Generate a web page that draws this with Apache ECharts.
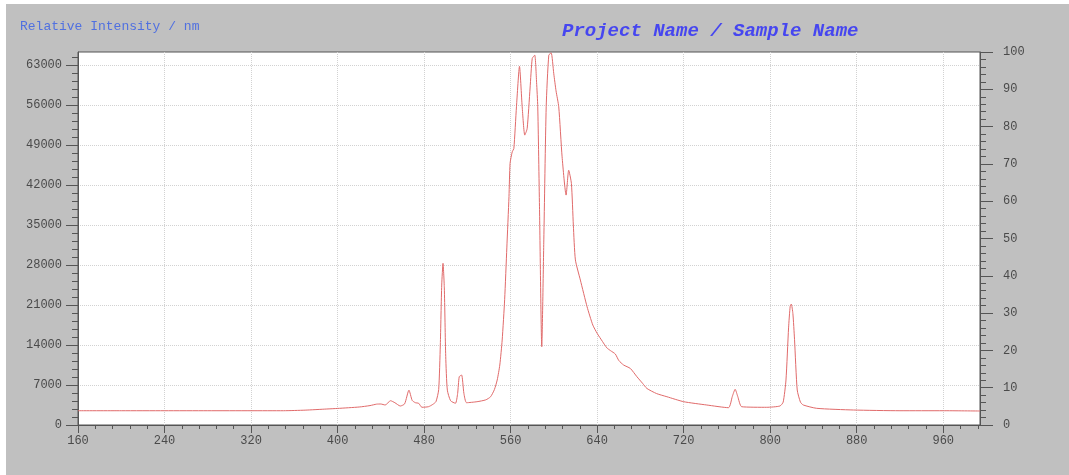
<!DOCTYPE html>
<html>
<head>
<meta charset="utf-8">
<script src="https://cdn.jsdelivr.net/npm/echarts@6/dist/echarts.min.js"></script>
<style>
  html, body { margin: 0; padding: 0; background: #ffffff; }
  #bg { position: absolute; left: 6px; top: 4px; width: 1063px; height: 471px; background: #c0c0c0; }
  #chart { position: absolute; left: 0; top: 0; width: 1069px; height: 475px; }
</style>
</head>
<body>
<div id="bg"></div>
<div id="chart"></div>
<script>
// Wavelength (nm)
const wavelengths = [
  160, 200, 240, 280, 320, 350, 370, 390, 400, 420, 430, 436, 440, 444, 449, 453, 458, 462, 466, 469,
  472, 475, 478, 484, 488, 491, 493.5, 495, 496.3, 497.5, 498.7, 500, 501.5, 504.5, 509, 511, 512.5, 514.7, 516.8, 519.3,
  529, 537, 541.5, 545, 547.6, 550, 552.2, 554.5, 556.5, 558.5, 559.5, 561.5, 563, 565.4, 568.2, 570.7,
  573.1, 575.3, 578, 580, 582.3, 584, 585.1, 586.7, 588.8, 590.7, 592.9, 595.3, 597.5, 599.9, 602, 604.5,
  607.6, 611.3, 613.7, 616.2, 618, 619.9, 624.5, 630.7, 636, 640, 645, 649, 652.5, 656.8, 660, 664.5,
  670.7, 676.8, 682, 686, 695, 704.5, 720, 741.4, 761.4, 765, 767.6, 770, 773.7, 796.8, 809, 812,
  814.6, 817, 818.5, 819.5, 821, 822.5, 825, 828, 830.6, 843, 877, 920, 960, 994
];
// Relative intensity (counts)
const intensities = [
  2500, 2500, 2500, 2500, 2500, 2500, 2600, 2800, 2900, 3150, 3400, 3650, 3675, 3500, 4250, 3900, 3325, 3700, 6100, 4300,
  3900, 3800, 3100, 3200, 3600, 4100, 6200, 14000, 24500, 28300, 24000, 12000, 6100, 4250, 3800, 5500, 8450, 8750, 5550, 3900,
  4080, 4400, 4950, 6200, 7875, 10500, 14875, 22000, 31000, 40000, 45800, 47830, 48400, 55700, 62800, 55700,
  50750, 51900, 59000, 64170, 64750, 60000, 55700, 38200, 13700, 32400, 55700, 64750, 65150, 61500, 58500, 55700,
  46950, 40250, 44600, 42300, 35000, 28900, 25375, 20700, 17500, 16050, 14600, 13500, 13000, 12425, 11300, 10500,
  9900, 8450, 7300, 6400, 5500, 4950, 4080, 3500, 3030, 5000, 6250, 5000, 3200, 3100, 3325, 4000,
  7875, 17000, 20800, 21175, 19500, 15000, 6125, 4000, 3500, 2920, 2625, 2500, 2500, 2450
];
const xTickLabels = [160, 240, 320, 400, 480, 560, 640, 720, 800, 880, 960];
const leftTickLabels = [0, 7000, 14000, 21000, 28000, 35000, 42000, 49000, 56000, 63000];
const rightTickLabels = [0, 10, 20, 30, 40, 50, 60, 70, 80, 90, 100];

const chart = echarts.init(document.getElementById('chart'), null, { renderer: 'canvas' });
const axisColor = '#555555';
const labelFont = { fontFamily: 'Liberation Mono', fontSize: 12, color: '#4a4a4a', formatter: v => String(v) };
const gridLine = { show: true, lineStyle: { color: '#d2d2d2', type: 'dotted', width: 1 } };

const option = {
  backgroundColor: 'transparent',
  animation: false,
  title: [
    {
      text: 'Relative Intensity / nm', left: 15, top: 15,
      textStyle: { fontFamily: 'Liberation Mono', fontSize: 13, fontWeight: 'normal', color: '#5070e0' }
    },
    {
      text: 'Project Name / Sample Name', left: 557, top: 17,
      textStyle: { fontFamily: 'Liberation Mono', fontSize: 19, fontWeight: 'bold', fontStyle: 'italic', color: '#4646f0' }
    }
  ],
  grid: {
    left: 78, right: 89, top: 52, bottom: 50,
    show: true, backgroundColor: '#ffffff', borderColor: axisColor, borderWidth: 1
  },
  xAxis: {
    type: 'value', min: 160, max: 994, interval: 80,
    axisLine: { show: true, onZero: false, lineStyle: { color: axisColor } },
    axisTick: { show: true, length: 8, customValues: xTickLabels, lineStyle: { color: axisColor } },
    minorTick: { show: true, splitNumber: 5, length: 4, lineStyle: { color: axisColor } },
    axisLabel: Object.assign({ margin: 10, customValues: xTickLabels }, labelFont),
    splitLine: gridLine
  },
  yAxis: [
    {
      type: 'value', min: 0, max: 65300, interval: 7000, position: 'left',
      axisLine: { show: true, lineStyle: { color: axisColor } },
      axisTick: { show: true, length: 12, customValues: leftTickLabels, lineStyle: { color: axisColor } },
      minorTick: { show: true, splitNumber: 5, length: 6, lineStyle: { color: axisColor } },
      axisLabel: Object.assign({ margin: 16, customValues: leftTickLabels }, labelFont),
      splitLine: gridLine
    },
    {
      type: 'value', min: 0, max: 100, interval: 10, position: 'right',
      axisLine: { show: true, lineStyle: { color: axisColor } },
      axisTick: { show: true, length: 13, customValues: rightTickLabels, lineStyle: { color: axisColor } },
      minorTick: { show: true, splitNumber: 5, length: 6, lineStyle: { color: axisColor } },
      axisLabel: Object.assign({ margin: 23, customValues: rightTickLabels }, labelFont),
      splitLine: { show: false }
    }
  ],
  series: [
    {
      type: 'line',
      yAxisIndex: 0,
      data: wavelengths.map((w, i) => [w, intensities[i]]),
      showSymbol: false,
      smooth: 0.2,
      lineStyle: { color: '#e06a6a', width: 1 },
      itemStyle: { color: '#e06a6a' }
    }
  ]
};
chart.setOption(option);
</script>
</body>
</html>
